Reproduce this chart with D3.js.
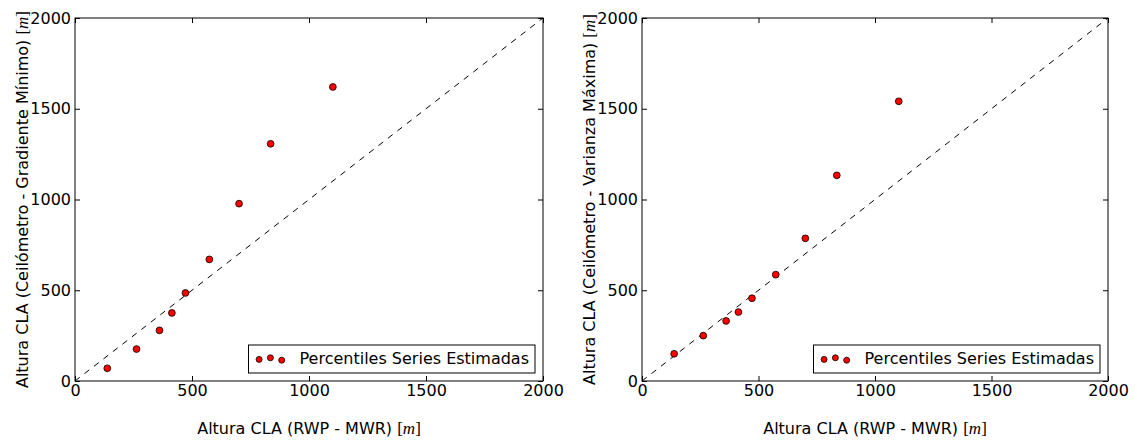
<!DOCTYPE html>
<html>
<head>
<meta charset="utf-8">
<script src="https://cdn.jsdelivr.net/npm/d3@7"></script>
<style>
    body { margin: 0; background: #ffffff; }
    svg { display: block; }
</style>
</head>
<body>
<svg id="chart"></svg>
<script>
//values
var tickValues = [0, 500, 1000, 1500, 2000];
var rwpMwr = [138, 263, 361, 414, 472, 574, 701, 836, 1102];
var gradienteMinimo = [70, 176, 279, 375, 485, 670, 977, 1307, 1620];
var varianzaMaxima = [150, 250, 331, 380, 456, 586, 786, 1133, 1541];
var yLabels = ["Altura CLA (Ceilómetro - Gradiente Mínimo)", "Altura CLA (Ceilómetro - Varianza Máxima)"];
var xLabel = "Altura CLA (RWP - MWR)";
var legendLabel = "Percentiles Series Estimadas";

function runScript () {

    var width = 1137;
    var height = 441;
    var fontSize = 16;
    var font = "'DejaVu Sans', sans-serif";

    var svg = d3.select("#chart")
        .attr("width" , width)
        .attr("height" , height);

    //one panel = frame, inward ticks on all sides, diagonal, points, legend
    function drawPanel (left, right, yValues, yText) {
        var top = 18;
        var bottom = 381;

        var xScale = d3.scaleLinear().domain([0, 2000]).range([left, right]);
        var yScale = d3.scaleLinear().domain([0, 2000]).range([bottom, top]);

        var g = svg.append("g");

        //1:1 reference line
        g.append("line")
            .attr("x1" , xScale(0))
            .attr("y1" , yScale(0))
            .attr("x2" , xScale(2000))
            .attr("y2" , yScale(2000))
            .attr("stroke" , "#000")
            .attr("stroke-width" , 1)
            .attr("stroke-dasharray" , "6,6");

        var axes = [
            {axis: d3.axisBottom(xScale), tr: "translate(0," + bottom + ")", labels: true},
            {axis: d3.axisLeft(yScale), tr: "translate(" + left + ",0)", labels: true},
            {axis: d3.axisTop(xScale), tr: "translate(0," + top + ")", labels: false},
            {axis: d3.axisRight(yScale), tr: "translate(" + right + ",0)", labels: false}
        ];

        axes.forEach(function (a) {
            a.axis.tickValues(tickValues)
                .tickSizeInner(-5)
                .tickSizeOuter(0)
                .tickPadding(a.labels ? 4 : 0)
                .tickFormat(a.labels ? d3.format("d") : "");
            var ag = g.append("g")
                .attr("transform" , a.tr)
                .call(a.axis);
            ag.select(".domain").remove();
            ag.selectAll("line").attr("stroke" , "#000");
            ag.selectAll("text")
                .attr("font-family" , font)
                .attr("font-size" , fontSize)
                .attr("fill" , "#000");
        });

        g.append("rect")
            .attr("x" , left)
            .attr("y" , top)
            .attr("width" , right - left)
            .attr("height" , bottom - top)
            .attr("fill" , "none")
            .attr("stroke" , "#000")
            .attr("stroke-width" , 1);

        //the scatter points
        g.selectAll(".punto")
            .data(rwpMwr)
            .enter()
            .append("circle")
            .attr("class" , "punto")
            .attr("cx" , function (d) { return xScale(d); })
            .attr("cy" , function (d, i) { return yScale(yValues[i]); })
            .attr("r" , 3.4)
            .attr("fill" , "#ff0000")
            .attr("stroke" , "#000")
            .attr("stroke-width" , 0.8);

        //axis titles with the [m] unit set like math text
        function addUnit (t) {
            t.append("tspan").text(" ");
            t.append("tspan").attr("font-family" , "'Liberation Serif', serif").attr("font-size" , 17).text("[");
            t.append("tspan").attr("font-family" , "'Liberation Serif', serif").attr("font-size" , 17).attr("font-style" , "italic").text("m");
            t.append("tspan").attr("font-family" , "'Liberation Serif', serif").attr("font-size" , 17).text("]");
        }

        var xt = g.append("text")
            .attr("x" , (left + right) / 2)
            .attr("y" , 434)
            .attr("text-anchor" , "middle")
            .attr("font-family" , font)
            .attr("font-size" , fontSize);
        xt.append("tspan").text(xLabel);
        addUnit(xt);

        var yt = g.append("text")
            .attr("transform" , "translate(" + (left - 47) + "," + ((top + bottom) / 2) + ") rotate(-90)")
            .attr("text-anchor" , "middle")
            .attr("font-family" , font)
            .attr("font-size" , fontSize);
        yt.append("tspan").text(yText);
        addUnit(yt);

        //legend in the lower right corner
        var lg = g.append("g");
        var label = lg.append("text")
            .attr("font-family" , font)
            .attr("font-size" , fontSize)
            .attr("text-anchor" , "end")
            .attr("x" , right - 14)
            .attr("y" , 364)
            .text(legendLabel);
        var textWidth = label.node().getComputedTextLength();
        var boxRight = right - 8;
        var boxLeft = right - 14 - textWidth - 51;

        lg.insert("rect" , "text")
            .attr("x" , boxLeft)
            .attr("y" , 345)
            .attr("width" , boxRight - boxLeft)
            .attr("height" , 28)
            .attr("fill" , "#fff")
            .attr("stroke" , "#000")
            .attr("stroke-width" , 1);

        var markerDx = [10.6, 21.9, 33.2];
        var markerDy = [359.4, 357.8, 360.2];
        markerDx.forEach(function (dx, i) {
            lg.append("circle")
                .attr("cx" , boxLeft + dx)
                .attr("cy" , markerDy[i])
                .attr("r" , 3)
                .attr("fill" , "#ff0000")
                .attr("stroke" , "#000")
                .attr("stroke-width" , 0.8);
        });
    }

    drawPanel(75, 543, gradienteMinimo, yLabels[0]);
    drawPanel(642, 1108, varianzaMaxima, yLabels[1]);
}

window.onload = runScript;
</script>
</body>
</html>
